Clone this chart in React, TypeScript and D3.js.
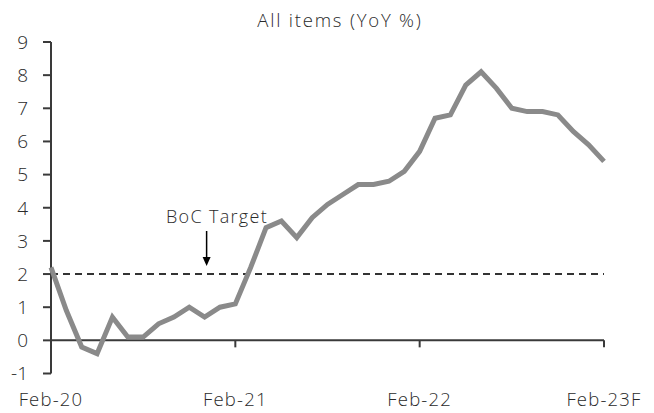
import React from "react";
import * as d3 from "d3";

const months: string[] = [
  "Feb-20","Mar-20","Apr-20","May-20","Jun-20","Jul-20","Aug-20","Sep-20","Oct-20","Nov-20","Dec-20","Jan-21",
  "Feb-21","Mar-21","Apr-21","May-21","Jun-21","Jul-21","Aug-21","Sep-21","Oct-21","Nov-21","Dec-21","Jan-22",
  "Feb-22","Mar-22","Apr-22","May-22","Jun-22","Jul-22","Aug-22","Sep-22","Oct-22","Nov-22","Dec-22","Jan-23",
  "Feb-23F",
];
const cpi: number[] = [
  2.2, 0.9, -0.2, -0.4, 0.7, 0.1, 0.1, 0.5, 0.7, 1.0, 0.7, 1.0,
  1.1, 2.2, 3.4, 3.6, 3.1, 3.7, 4.1, 4.4, 4.7, 4.7, 4.8, 5.1,
  5.7, 6.7, 6.8, 7.7, 8.1, 7.6, 7.0, 6.9, 6.9, 6.8, 6.3, 5.9,
  5.4,
];
const xTickLabels: string[] = ["Feb-20", "Feb-21", "Feb-22", "Feb-23F"];
const yTicks: number[] = [-1, 0, 1, 2, 3, 4, 5, 6, 7, 8, 9];
const target = 2;
const title = "All items (YoY %)";
const annotation = "BoC Target";
const annotationIndex = 10;

export default function App() {
  const W = 654, H = 413;
  const left = 51, right = 604, top = 42, bottom = 373.5;
  const x = d3.scaleLinear().domain([0, months.length - 1]).range([left, right]);
  const y = d3.scaleLinear().domain([-1, 9]).range([bottom, top]);
  const line = d3.line<number>().x((_, i) => x(i)).y((d) => y(d));
  const font = "'Open Sans', sans-serif";
  const textColor = "#2a2a2a";
  const axisColor = "#3a3a3a";
  const ax = x(annotationIndex) + 2;
  return (
    <div style={{ position: "absolute", left: 0, top: 0 }}>
      <svg width={W} height={H} style={{ display: "block" }} fontFamily={font}>
        <rect width={W} height={H} fill="#fff" />
        <text x={340} y={27} textAnchor="middle" fontSize={18.5} letterSpacing={1.8} fill={textColor} fontWeight={300}>{title}</text>
        {/* y axis */}
        <line x1={left} x2={left} y1={y(9)} y2={y(-1)} stroke={axisColor} strokeWidth={2} />
        {yTicks.map((t) => (
          <g key={t}>
            <line x1={left - 8} x2={left} y1={y(t)} y2={y(t)} stroke={axisColor} strokeWidth={2} />
            <text x={28} y={y(t)} dy="0.36em" textAnchor="end" fontSize={19} fill={textColor} fontWeight={300}>{t}</text>
          </g>
        ))}
        {/* x axis at 0 */}
        <line x1={left} x2={right} y1={y(0)} y2={y(0)} stroke={axisColor} strokeWidth={2} />
        {xTickLabels.map((lab) => {
          const i = months.indexOf(lab);
          return (
            <g key={lab}>
              <line x1={x(i)} x2={x(i)} y1={y(0)} y2={y(0) + 7} stroke={axisColor} strokeWidth={2} />
              <text x={x(i)} y={406} textAnchor="middle" fontSize={18.5} letterSpacing={1.2} fill={textColor} fontWeight={300}>{lab}</text>
            </g>
          );
        })}
        {/* target */}
        <line x1={left} x2={right} y1={y(target)} y2={y(target)} stroke="#333" strokeWidth={2} strokeDasharray="7,5" />
        <path d={line(cpi) || ""} fill="none" stroke="#8a8a8a" strokeWidth={5} strokeLinejoin="miter" />
        <text x={217} y={223} textAnchor="middle" fontSize={18} letterSpacing={1.3} fill={textColor} fontWeight={300}>{annotation}</text>
        <line x1={ax} x2={ax} y1={231} y2={258} stroke="#000" strokeWidth={1.5} />
        <path d={`M${ax - 4},${257} L${ax + 4},${257} L${ax},${266} Z`} fill="#000" />
      </svg>
    </div>
  );
}
